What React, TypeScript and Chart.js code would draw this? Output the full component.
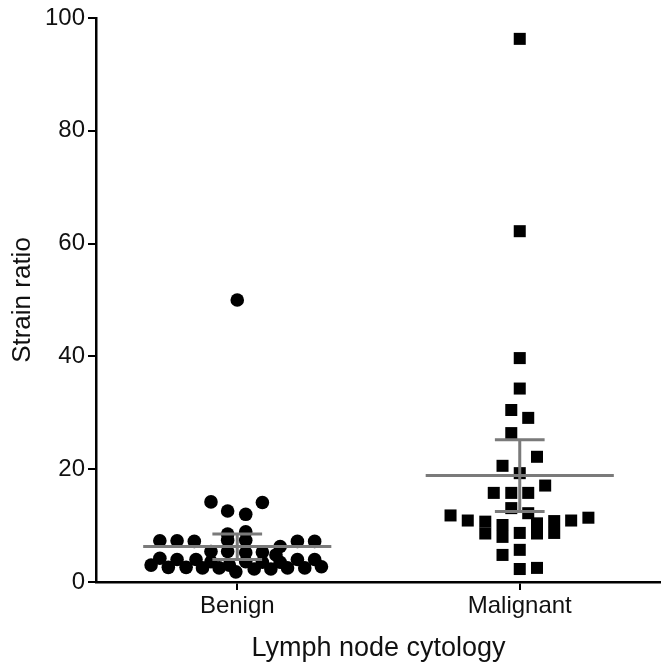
import React, { useEffect, useRef } from "react";
import { Chart, registerables } from "chart.js";

Chart.register(...registerables);

const categories = ["Benign", "Malignant"];

const benignValues = [50.0, 14.2, 14.1, 12.6, 12.0, 8.5, 8.9, 7.3, 7.3, 7.2, 7.4, 7.4, 7.2, 7.2, 6.3, 5.4, 5.4, 5.2, 5.3, 4.8, 4.2, 4.0, 4.0, 3.6, 4.0, 4.0, 3.0, 2.6, 2.6, 2.5, 2.5, 3.0, 1.8, 2.3, 2.3, 2.5, 2.5, 2.7, 3.5, 3.5, 3.6];
const benignOffsets = [0, -0.093, 0.089, -0.034, 0.03, -0.034, 0.03, -0.274, -0.213, -0.152, -0.034, 0.03, 0.213, 0.274, 0.152, -0.093, -0.034, 0.03, 0.089, 0.137, -0.274, -0.213, -0.146, -0.093, 0.213, 0.274, -0.305, -0.244, -0.181, -0.123, -0.064, -0.028, -0.005, 0.06, 0.119, 0.178, 0.239, 0.298, 0.089, 0.152, 0.03];

const malignantValues = [96.3, 62.2, 39.7, 34.3, 30.5, 29.1, 26.4, 22.2, 20.6, 19.3, 17.1, 15.8, 15.8, 15.8, 13.1, 12.2, 11.8, 10.9, 10.7, 8.6, 10.1, 8.0, 8.7, 10.4, 8.6, 10.8, 8.7, 10.9, 11.4, 4.8, 5.7, 2.3, 2.5];
const malignantOffsets = [0, 0, 0, 0, -0.03, 0.03, -0.03, 0.061, -0.061, 0, 0.09, -0.092, -0.03, 0.03, -0.03, 0.03, -0.245, -0.184, -0.122, -0.122, -0.061, -0.061, 0, 0.061, 0.061, 0.122, 0.122, 0.182, 0.243, -0.061, 0, 0, 0.061];

const groupMeans = [6.3, 18.9];
const groupUpper = [8.5, 25.2];
const groupLower = [4.0, 12.5];

const yTicks = [0, 20, 40, 60, 80, 100];

const FONT = "'Liberation Sans', Arial, Helvetica, sans-serif";

const errorBarPlugin = {
  id: "errorBars",
  afterDatasetsDraw(chart: any) {
    const { ctx } = chart;
    const xs = chart.scales.x;
    const ys = chart.scales.y;
    ctx.save();
    ctx.strokeStyle = "#7a7a7a";
    ctx.lineWidth = 3;
    ctx.lineCap = "butt";
    categories.forEach((_, i) => {
      const c = i + 1;
      const ym = ys.getPixelForValue(groupMeans[i]);
      const yu = ys.getPixelForValue(groupUpper[i]);
      const yl = ys.getPixelForValue(groupLower[i]);
      ctx.beginPath();
      ctx.moveTo(xs.getPixelForValue(c - 0.333), ym);
      ctx.lineTo(xs.getPixelForValue(c + 0.333), ym);
      ctx.moveTo(xs.getPixelForValue(c), yu);
      ctx.lineTo(xs.getPixelForValue(c), yl);
      ctx.moveTo(xs.getPixelForValue(c - 0.088), yu);
      ctx.lineTo(xs.getPixelForValue(c + 0.088), yu);
      ctx.moveTo(xs.getPixelForValue(c - 0.088), yl);
      ctx.lineTo(xs.getPixelForValue(c + 0.088), yl);
      ctx.stroke();
    });
    ctx.restore();
  },
};

export default function App() {
  const ref = useRef<HTMLCanvasElement>(null);
  useEffect(() => {
    if (!ref.current) return;
    const benign = benignValues.map((v, i) => ({ x: 1 + benignOffsets[i], y: v }));
    const malignant = malignantValues.map((v, i) => ({ x: 2 + malignantOffsets[i], y: v }));
    const chart = new Chart(ref.current, {
      type: "scatter",
      data: {
        datasets: [
          {
            label: categories[0],
            data: benign,
            pointStyle: "circle",
            pointRadius: 6.8,
            pointBackgroundColor: "#000",
            pointBorderWidth: 0,
            pointHoverRadius: 6.8,
            clip: false,
          },
          {
            label: categories[1],
            data: malignant,
            pointStyle: "rect",
            pointRadius: 8.5,
            pointBackgroundColor: "#000",
            pointBorderWidth: 0,
            pointHoverRadius: 8.5,
            clip: false,
          },
        ],
      },
      options: {
        animation: false,
        responsive: false,
        layout: { autoPadding: false, padding: { top: 18, right: 0, left: 0, bottom: 0 } },
        plugins: { legend: { display: false }, tooltip: { enabled: false } },
        scales: {
          x: {
            type: "linear",
            min: 0.5,
            max: 2.5,
            afterBuildTicks: (scale: any) => {
              scale.ticks = [{ value: 1 }, { value: 2 }];
            },
            afterFit: (scale: any) => {
              scale.height = 80;
              scale.paddingRight = 0;
              scale.paddingLeft = 0;
            },
            ticks: {
              callback: (v: any) => categories[Number(v) - 1] ?? "",
              color: "#111",
              font: { family: FONT, size: 24 },
              padding: 2,
              maxRotation: 0,
            },
            grid: {
              drawOnChartArea: false,
              drawTicks: true,
              tickLength: 8,
              color: "#000",
              lineWidth: 2,
            },
            border: { display: true, color: "#000", width: 2.5 },
            title: {
              display: true,
              text: "Lymph node cytology",
              color: "#111",
              font: { family: FONT, size: 27 },
              padding: { top: 0, bottom: -3 },
            },
          },
          y: {
            type: "linear",
            min: 0,
            max: 100,
            afterBuildTicks: (scale: any) => {
              scale.ticks = yTicks.map((v) => ({ value: v }));
            },
            afterFit: (scale: any) => {
              scale.width = 96;
              scale.paddingTop = 0;
              scale.paddingBottom = 0;
            },
            ticks: {
              color: "#111",
              font: { family: FONT, size: 24 },
              padding: 3,
            },
            grid: {
              drawOnChartArea: false,
              drawTicks: true,
              tickLength: 8,
              color: "#000",
              lineWidth: 2,
            },
            border: { display: true, color: "#000", width: 2.5 },
            title: {
              display: true,
              text: "Strain ratio",
              color: "#111",
              font: { family: FONT, size: 26 },
              padding: { top: 7, bottom: 0 },
            },
          },
        },
      },
      plugins: [errorBarPlugin],
    });
    return () => chart.destroy();
  }, []);
  return (
    <div style={{ position: "absolute", left: 0, top: 0, width: 661, height: 662, background: "#fff" }}>
      <canvas ref={ref} width={661} height={662} style={{ display: "block" }} />
    </div>
  );
}
